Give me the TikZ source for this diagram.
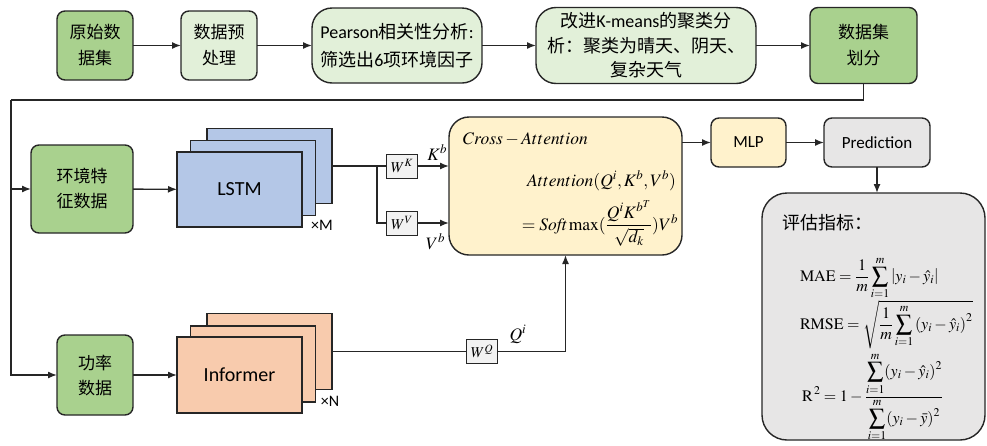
\documentclass[tikz,border=0pt]{standalone}
\usepackage{amsmath}
\usepackage{mathptmx}
\usepackage[no-math]{fontspec}
\setmainfont{Carlito}
\newfontfamily\cjk{Noto Sans CJK SC}
\newfontfamily\lat{Carlito}
\usetikzlibrary{arrows.meta,positioning}
\newcommand{\setsize}[2]{\fontsize{#1}{#2}\selectfont}
\definecolor{darkgreen}{HTML}{A9D18E}
\definecolor{lightgreen}{HTML}{E2F0D9}
\definecolor{lstmblue}{HTML}{B4C7E7}
\definecolor{informerorange}{HTML}{F8CBAD}
\definecolor{attnyellow}{HTML}{FFF2CC}
\definecolor{predgray}{HTML}{E7E6E6}
\definecolor{wgray}{HTML}{F2F2F2}
\definecolor{linegray}{HTML}{262626}
\begin{document}
\begin{tikzpicture}[x=1pt,y=-1pt,inner sep=0pt,outer sep=0pt,line width=1.4pt,draw=linegray,
>={Latex[length=9pt,width=7pt]},
datablock/.style={draw,rounded corners=8pt,fill=darkgreen,align=center,font=\cjk\setsize{17}{26}},
stepblock/.style={draw,rounded corners=8pt,fill=lightgreen,align=center,font=\cjk\setsize{17}{26}},
bigstep/.style={draw,rounded corners=20pt,fill=lightgreen,align=center,font=\cjk\setsize{18}{28}},
lstmlayer/.style={draw,fill=lstmblue,minimum width=125pt,minimum height=75pt,font=\lat\setsize{20}{24}},
informerlayer/.style={draw,fill=informerorange,minimum width=125pt,minimum height=76pt,font=\lat\setsize{20}{24}},
wblock/.style={draw,line width=1pt,fill=wgray,minimum width=31pt,minimum height=24pt,font=\setsize{15}{18}},
outblock/.style={draw,rounded corners=8pt,minimum height=49pt,font=\lat\setsize{17}{20}},
mathlabel/.style={font=\setsize{17.5}{20}},
metric/.style={anchor=base west,font=\setsize{16}{19}}]
\useasboundingbox (0,0) rectangle (987,445);
% data preparation
\draw (95,45.5) node[datablock,minimum width=76pt,minimum height=69pt] (raw) {原始数\\据集};
\draw (219,45.5) node[stepblock,minimum width=76pt,minimum height=69pt] (prep) {数据预\\处理};
\draw (397,45.5) node[bigstep,minimum width=170pt,minimum height=75pt] (pearson) {{\lat Pearson}相关性分析{\lat :}\\筛选出{\lat 6}项环境因子};
\draw (646,45.5) node[bigstep,minimum width=220pt,minimum height=76pt,font=\cjk\setsize{18}{24.5}] (kmeans) {改进{\lat K-means}的聚类分\\析：聚类为晴天、阴天、\\复杂天气};
\draw (863.5,45.5) node[datablock,minimum width=107pt,minimum height=76pt] (split) {数据集\\划分};
\draw[->] (raw) -- (prep);
\draw[->] (prep) -- (pearson);
\draw[->] (pearson) -- (kmeans);
\draw[->] (kmeans) -- (split);
% inputs
\draw (82,189) node[datablock,minimum width=102pt,minimum height=88pt,font=\cjk\setsize{17}{25}] (env) {环境特\\征数据};
\draw (95,375) node[datablock,minimum width=76pt,minimum height=80pt,font=\cjk\setsize{17}{25}] (power) {功率\\数据};
\coordinate (busleft) at (11,100);
\draw (split.south) |- (busleft);
\draw[->] (busleft) |- (env.west);
\draw[->] (busleft) |- (power.west);
% LSTM branch
\draw (269.5,166) node[lstmlayer] (lstm3) {};
\draw (253,178) node[lstmlayer] (lstm2) {};
\draw (239.5,189.5) node[lstmlayer] (lstm1) {LSTM};
\draw (322,225) node[font=\lat\setsize{16}{18}] (lstmcount) {×M};
\draw[->] (env) -- (lstm1);
% Informer branch
\draw (269.5,351.5) node[informerlayer] (informer3) {};
\draw (253,364) node[informerlayer] (informer2) {};
\draw (239.5,375) node[informerlayer] (informer1) {Informer};
\draw (330,401) node[font=\lat\setsize{16}{18}] (informercount) {×N};
\draw[->] (power) -- (informer1);
% cross attention
\draw (565.5,186) node[draw,rounded corners=20pt,fill=attnyellow,minimum width=233pt,minimum height=138pt] (attn) {};
\draw (463,139) node[mathlabel,anchor=west] (attntitle) {$Cross-Attention$};
\draw (676,186) node[mathlabel,anchor=base east] (attnformula) {$Attention(Q^i,K^b,V^b)$};
\draw (678,230) node[mathlabel,anchor=base east] (softmaxformula) {$=\mathit{Soft}\max(\dfrac{Q^iK^{b^T}}{\sqrt{d_k}})V^b$};
\draw (402,166) node[wblock] (wk) {$W^K$};
\draw (402,223) node[wblock] (wv) {$W^V$};
\draw (482,351.5) node[wblock] (wq) {$W^Q$};
\coordinate (kvsplit) at (377,166);
\draw (lstm3.east) -- (kvsplit) -- (wk);
\draw (kvsplit) |- (wv);
\draw[->] (wk) -- (wk -| attn.west) node[mathlabel,above left=6pt and 2pt] {$K^b$};
\draw[->] (wv) -- (wv -| attn.west) node[mathlabel,below left=11pt and 4pt] {$V^b$};
\draw (informer3.east) -- (wq);
\draw[->] (wq.east) node[mathlabel,above right=8pt and 12pt] {$Q^i$} -| (attn.south);
% output
\draw (748.5,142.5) node[outblock,fill=attnyellow,minimum width=75pt] (mlp) {MLP};
\draw (877,142.5) node[outblock,fill=predgray,minimum width=106pt] (pred) {Prediction};
\draw[->] (mlp.west -| attn.east) -- (mlp.west);
\draw[->] (mlp) -- (pred);
\draw (873.5,316.5) node[draw,rounded corners=25pt,fill=predgray,minimum width=223pt,minimum height=247pt] (eval) {};
\draw[->] (pred.south) -- (pred.south |- eval.north);
\draw (782,223) node[anchor=west,font=\cjk\setsize{18}{22}] (evaltitle) {评估指标：};
\draw (800,281) node[metric] (mae) {$\displaystyle\mathrm{MAE}=\frac{1}{m}\sum_{i=1}^{m}\left|y_i-\hat{y}_i\right|$};
\draw (800,329) node[metric] (rmse) {$\displaystyle\mathrm{RMSE}=\sqrt{\frac{1}{m}\sum_{i=1}^{m}\left(y_i-\hat{y}_i\right)^2}$};
\draw (802,401) node[metric] (rsquare) {$\displaystyle\mathrm{R}^{\,2}=1-\frac{\displaystyle\sum_{i=1}^{m}(y_i-\hat{y}_i)^2}{\displaystyle\sum_{i=1}^{m}(y_i-\bar{y})^2}$};
\end{tikzpicture}
\end{document}
